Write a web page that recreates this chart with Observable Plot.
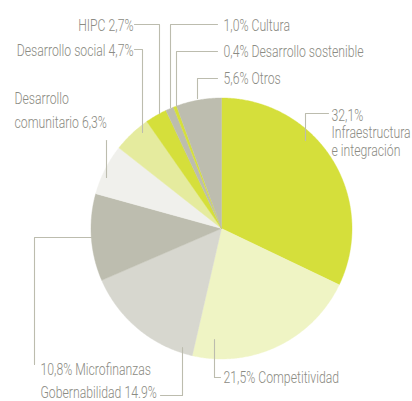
<!DOCTYPE html>
<html>
<head>
<meta charset="utf-8">
<script src="https://cdn.jsdelivr.net/npm/d3@7"></script>
<script src="https://cdn.jsdelivr.net/npm/@observablehq/plot@0.6"></script>
<style>
  html, body { margin: 0; padding: 0; background: #fff; }
  #chart svg { display: block; }
</style>
</head>
<body>
<div id="chart"></div>
<script>
// ---- Data ----
const categories = ["Infraestructura e integración", "Competitividad", "Gobernabilidad", "Microfinanzas",
  "Desarrollo comunitario", "Desarrollo social", "HIPC", "Cultura", "Desarrollo sostenible", "Otros"];
const values = [32.1, 21.5, 14.9, 10.8, 6.3, 4.7, 2.7, 1.0, 0.4, 5.6];
const labelLines = [
  ["32,1%", "Infraestructura", "e integración"],
  ["21,5% Competitividad"],
  ["Gobernabilidad 14.9%"],
  ["10,8% Microfinanzas"],
  ["Desarrollo", "comunitario 6,3%"],
  ["Desarrollo social 4,7%"],
  ["HIPC 2,7%"],
  ["1,0% Cultura"],
  ["0,4% Desarrollo sostenible"],
  ["5,6% Otros"]
];

// ---- Styles / layout ----
const sliceColors = ["#d5df3b", "#eff4c4", "#d7d7cf", "#bdbdaf", "#f0f0ec", "#e5eb9e", "#d5df3b", "#bdbdaf", "#d5df3b", "#bdbdaf"];
const W = 412, H = 401;
const cx = 221, cy = 228, R = 130.5;
const layout = [
  {x: 331, y: 115, anchor: "start", lh: 17.5, leader: [[305,140],[305,113],[328,113]]},
  {x: 223, y: 377, anchor: "start", lh: 0, leader: [[214,339],[214,377],[220,377]]},
  {x: 40, y: 392, anchor: "start", lh: 0, leader: [[160,395],[182,395],[182,347]]},
  {x: 40, y: 369, anchor: "start", lh: 0, leader: [[91,237],[34,237],[34,364]]},
  {x: 14, y: 98, anchor: "start", lh: 24.5, leader: [[106,140],[106,177]]},
  {x: 133, y: 50, anchor: "end", lh: 0, leader: [[134,49],[142,49],[142,132]]},
  {x: 133, y: 25, anchor: "end", lh: 0, leader: [[134,24],[159,24],[159,113]]},
  {x: 223, y: 25, anchor: "start", lh: 0, leader: [[217,24],[170,24],[170,107]]},
  {x: 223, y: 51, anchor: "start", lh: 0, leader: [[217,51],[176,51],[176,105]]},
  {x: 223, y: 78, anchor: "start", lh: 0, leader: [[217,78],[197,78],[197,98]]}
];

// ---- Build slice polygons from values ----
const total = d3.sum(values);
const slicePts = [];
let acc = 0;
values.forEach((v, i) => {
  const a0 = acc / total * 2 * Math.PI;
  acc += v;
  const a1 = acc / total * 2 * Math.PI;
  const n = Math.max(2, Math.ceil((a1 - a0) / (Math.PI / 360)));
  slicePts.push({cat: categories[i], color: sliceColors[i], x: cx, y: cy});
  for (let k = 0; k <= n; k++) {
    const a = a0 + (a1 - a0) * k / n;
    slicePts.push({cat: categories[i], color: sliceColors[i], x: cx + R * Math.sin(a), y: cy - R * Math.cos(a)});
  }
  slicePts.push({cat: categories[i], color: sliceColors[i], x: cx, y: cy});
});

const leaderPts = [];
layout.forEach((l, i) => l.leader.forEach(p => leaderPts.push({cat: categories[i], x: p[0], y: p[1]})));

const textRows = [];
layout.forEach((l, i) => labelLines[i].forEach((t, j) =>
  textRows.push({text: t, x: l.x, y: l.y + j * l.lh, anchor: l.anchor})));

const textColor = "#8b8b83";
const font = "Roboto, 'Liberation Sans', sans-serif";
const condense = 0.765;

const plot = Plot.plot({
  width: W, height: H,
  margin: 0,
  x: {domain: [0, W], range: [0, W], axis: null},
  y: {domain: [0, H], range: [0, H], axis: null},
  color: {type: "identity"},
  style: {fontFamily: font, background: "#fff", overflow: "visible"},
  marks: [
    Plot.line(slicePts, {x: "x", y: "y", z: "cat", fill: "color", stroke: "color", strokeWidth: 0.4, curve: "linear"}),
    Plot.line(leaderPts, {x: "x", y: "y", z: "cat", stroke: "#bcbcae", strokeWidth: 1.1, curve: "linear"}),
    Plot.text(textRows.filter(d => d.anchor === "start"), {x: "x", y: "y", text: "text", textAnchor: "start", fill: textColor, fontSize: 16, fontWeight: 300}),
    Plot.text(textRows.filter(d => d.anchor === "end"), {x: "x", y: "y", text: "text", textAnchor: "end", fill: textColor, fontSize: 16, fontWeight: 300})
  ]
});
// condense label glyphs horizontally around their anchor (the reference uses a condensed face)
d3.select(plot).selectAll("g[aria-label='text'] text").each(function() {
  const t = this.getAttribute("transform") || "";
  this.setAttribute("transform", t + ` scale(${condense},1)`);
});
document.getElementById("chart").appendChild(plot);
</script>
</body>
</html>
